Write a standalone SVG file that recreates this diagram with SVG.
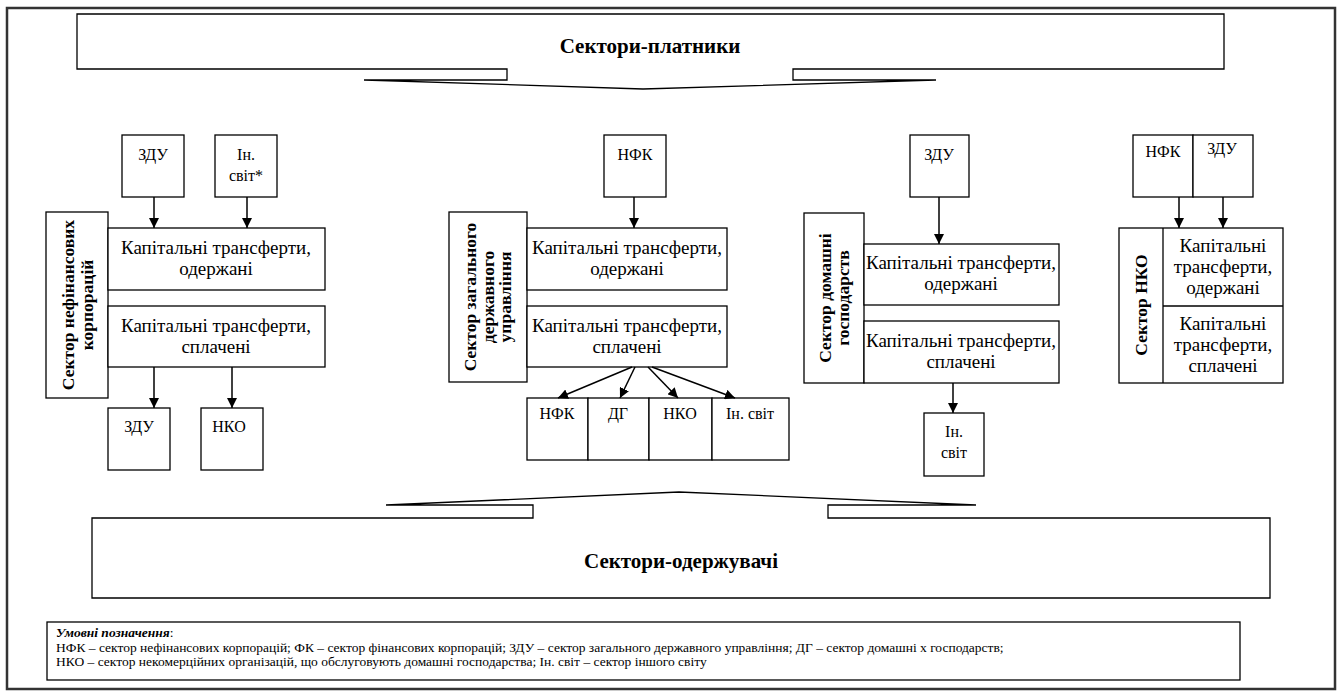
<svg xmlns="http://www.w3.org/2000/svg" width="1340" height="695" viewBox="0 0 1340 695" font-family="'Liberation Serif', 'Noto Serif', 'DejaVu Serif', serif">
  <defs>
    <marker id="arr" viewBox="0 0 10 10" refX="10" refY="5" markerWidth="10" markerHeight="10" markerUnits="userSpaceOnUse" orient="auto">
      <path d="M0,0 L10,5 L0,10 Z" fill="#000"/>
    </marker>
    <style>
      .box { fill: #fff; stroke: #000; stroke-width: 1.3; }
      .frame { fill: #fff; stroke: #333; stroke-width: 2.5; }
      text { font-family: 'Liberation Serif', 'Noto Serif', 'DejaVu Serif', serif; fill: #000; }
      .t { font-size: 19px; text-anchor: middle; }
      .s { font-size: 16px; text-anchor: middle; }
      .v { font-size: 17.5px; font-weight: bold; text-anchor: middle; }
      .h { font-size: 21px; font-weight: bold; text-anchor: middle; }
      .lg { font-size: 13.5px; }
      .conn line { stroke: #000; stroke-width: 1.5; marker-end: url(#arr); }
    </style>
  </defs>

  <!-- outer frame -->
  <rect class="frame" x="7" y="8" width="1328" height="681"/>

  <!-- payer sectors callout -->
  <g id="payers">
    <path class="box" d="M77,14 H1224 V69 H793 V80 H936 L643,89 L364,80 H507 V69 H77 Z"/>
    <text class="h" x="650" y="53">Сектори-платники</text>
  </g>

  <!-- non-financial corporations sector -->
  <g id="nfc-in-gov">
    <rect class="box" x="122" y="135" width="62" height="62"/>
    <text class="s" x="153" y="160">ЗДУ</text>
  </g>
  <g id="nfc-in-row">
    <rect class="box" x="215" y="135" width="62" height="62"/>
    <text class="s" x="246" y="160">Ін.</text>
    <text class="s" x="246" y="181">світ*</text>
  </g>
  <g id="nfc-sector">
    <rect class="box" x="46" y="212" width="62" height="186"/>
    <text class="v" transform="translate(77,305) rotate(-90)"><tspan x="0" y="-3">Сектор нефінансових</tspan><tspan x="0" y="16">корпорацій</tspan></text>
  </g>
  <g id="nfc-received">
    <rect class="box" x="108" y="228" width="217" height="62"/>
    <text class="t" x="216" y="254">Капітальні трансферти,</text>
    <text class="t" x="216" y="275">одержані</text>
  </g>
  <g id="nfc-paid">
    <rect class="box" x="108" y="306" width="217" height="61"/>
    <text class="t" x="216" y="332">Капітальні трансферти,</text>
    <text class="t" x="216" y="353">сплачені</text>
  </g>
  <g id="nfc-out-gov">
    <rect class="box" x="108" y="408" width="62" height="62"/>
    <text class="s" x="139" y="432">ЗДУ</text>
  </g>
  <g id="nfc-out-npish">
    <rect class="box" x="201" y="408" width="62" height="62"/>
    <text class="s" x="229" y="432">НКО</text>
  </g>

  <!-- general government sector -->
  <g id="gov-in-nfc">
    <rect class="box" x="604" y="135" width="62" height="62"/>
    <text class="s" x="635" y="160">НФК</text>
  </g>
  <g id="gov-sector">
    <rect class="box" x="449" y="212" width="78" height="170"/>
    <text class="v" transform="translate(488,297) rotate(-90)"><tspan x="0" y="-12">Сектор загального</tspan><tspan x="0" y="6">державного</tspan><tspan x="0" y="23">управління</tspan></text>
  </g>
  <g id="gov-received">
    <rect class="box" x="527" y="228" width="200" height="62"/>
    <text class="t" x="627" y="254">Капітальні трансферти,</text>
    <text class="t" x="627" y="275">одержані</text>
  </g>
  <g id="gov-paid">
    <rect class="box" x="527" y="306" width="200" height="61"/>
    <text class="t" x="627" y="332">Капітальні трансферти,</text>
    <text class="t" x="627" y="353">сплачені</text>
  </g>
  <g id="gov-out-nfc">
    <rect class="box" x="527" y="398" width="61" height="62"/>
    <text class="s" x="557" y="419">НФК</text>
  </g>
  <g id="gov-out-hh">
    <rect class="box" x="588" y="398" width="61" height="62"/>
    <text class="s" x="618" y="419">ДГ</text>
  </g>
  <g id="gov-out-npish">
    <rect class="box" x="649" y="398" width="63" height="62"/>
    <text class="s" x="680" y="419">НКО</text>
  </g>
  <g id="gov-out-row">
    <rect class="box" x="712" y="398" width="77" height="62"/>
    <text class="s" x="750" y="419">Ін. світ</text>
  </g>

  <!-- households sector -->
  <g id="hh-in-gov">
    <rect class="box" x="910" y="135" width="59" height="62"/>
    <text class="s" x="939" y="160">ЗДУ</text>
  </g>
  <g id="hh-sector">
    <rect class="box" x="804" y="213" width="60" height="170"/>
    <text class="v" transform="translate(834,298) rotate(-90)"><tspan x="0" y="-3">Сектор домашні</tspan><tspan x="0" y="15">господарств</tspan></text>
  </g>
  <g id="hh-received">
    <rect class="box" x="864" y="244" width="195" height="61"/>
    <text class="t" x="961" y="269">Капітальні трансферти,</text>
    <text class="t" x="961" y="290">одержані</text>
  </g>
  <g id="hh-paid">
    <rect class="box" x="864" y="321" width="195" height="62"/>
    <text class="t" x="961" y="347">Капітальні трансферти,</text>
    <text class="t" x="961" y="368">сплачені</text>
  </g>
  <g id="hh-out-row">
    <rect class="box" x="924" y="413" width="60" height="63"/>
    <text class="s" x="954" y="437">Ін.</text>
    <text class="s" x="954" y="458">світ</text>
  </g>

  <!-- NPISH sector -->
  <g id="npish-in-nfc">
    <rect class="box" x="1133" y="135" width="60" height="62"/>
    <text class="s" x="1163" y="157">НФК</text>
  </g>
  <g id="npish-in-gov">
    <rect class="box" x="1193" y="135" width="60" height="62"/>
    <text class="s" x="1222" y="154">ЗДУ</text>
  </g>
  <g id="npish-sector">
    <rect class="box" x="1119" y="228" width="164" height="155"/>
    <line x1="1163" y1="228" x2="1163" y2="383" stroke="#000" stroke-width="1.3"/>
    <line x1="1163" y1="306" x2="1283" y2="306" stroke="#000" stroke-width="1.3"/>
    <text class="v" transform="translate(1141,305) rotate(-90)"><tspan x="0" y="6">Сектор НКО</tspan></text>
    <text class="t" x="1223" y="252">Капітальні</text>
    <text class="t" x="1223" y="273">трансферти,</text>
    <text class="t" x="1223" y="294">одержані</text>
    <text class="t" x="1223" y="330">Капітальні</text>
    <text class="t" x="1223" y="351">трансферти,</text>
    <text class="t" x="1223" y="372">сплачені</text>
  </g>

  <!-- recipient sectors callout -->
  <g id="recipients">
    <path class="box" d="M92,598 H1270 V518 H828 V505 H976 L679,492 L386,505 H533 V518 H92 Z"/>
    <text class="h" x="681" y="568">Сектори-одержувачі</text>
  </g>

  <!-- legend -->
  <g id="legend">
    <rect class="box" x="47" y="622" width="1193" height="58"/>
    <text class="lg" x="56" y="637"><tspan font-weight="bold" font-style="italic">Умовні позначення</tspan>:</text>
    <text class="lg" x="56" y="652">НФК – сектор нефінансових корпорацій; ФК – сектор фінансових корпорацій; ЗДУ – сектор загального державного управління; ДГ – сектор домашні х господарств;</text>
    <text class="lg" x="56" y="666">НКО – сектор некомерційних організацій, що обслуговують домашні господарства; Ін. світ – сектор іншого світу</text>
  </g>

  <!-- connectors -->
  <g id="connectors" class="conn">
    <line x1="154" y1="197" x2="154" y2="228"/>
    <line x1="247" y1="197" x2="247" y2="228"/>
    <line x1="154" y1="367" x2="154" y2="408"/>
    <line x1="232" y1="367" x2="232" y2="408"/>
    <line x1="634" y1="197" x2="634" y2="228"/>
    <line x1="632" y1="367" x2="558" y2="398"/>
    <line x1="635" y1="367" x2="620" y2="398"/>
    <line x1="648" y1="367" x2="678" y2="398"/>
    <line x1="652" y1="367" x2="735" y2="398"/>
    <line x1="939" y1="197" x2="939" y2="244"/>
    <line x1="953" y1="383" x2="953" y2="413"/>
    <line x1="1179" y1="197" x2="1179" y2="228"/>
    <line x1="1223" y1="197" x2="1223" y2="228"/>
  </g>
</svg>
